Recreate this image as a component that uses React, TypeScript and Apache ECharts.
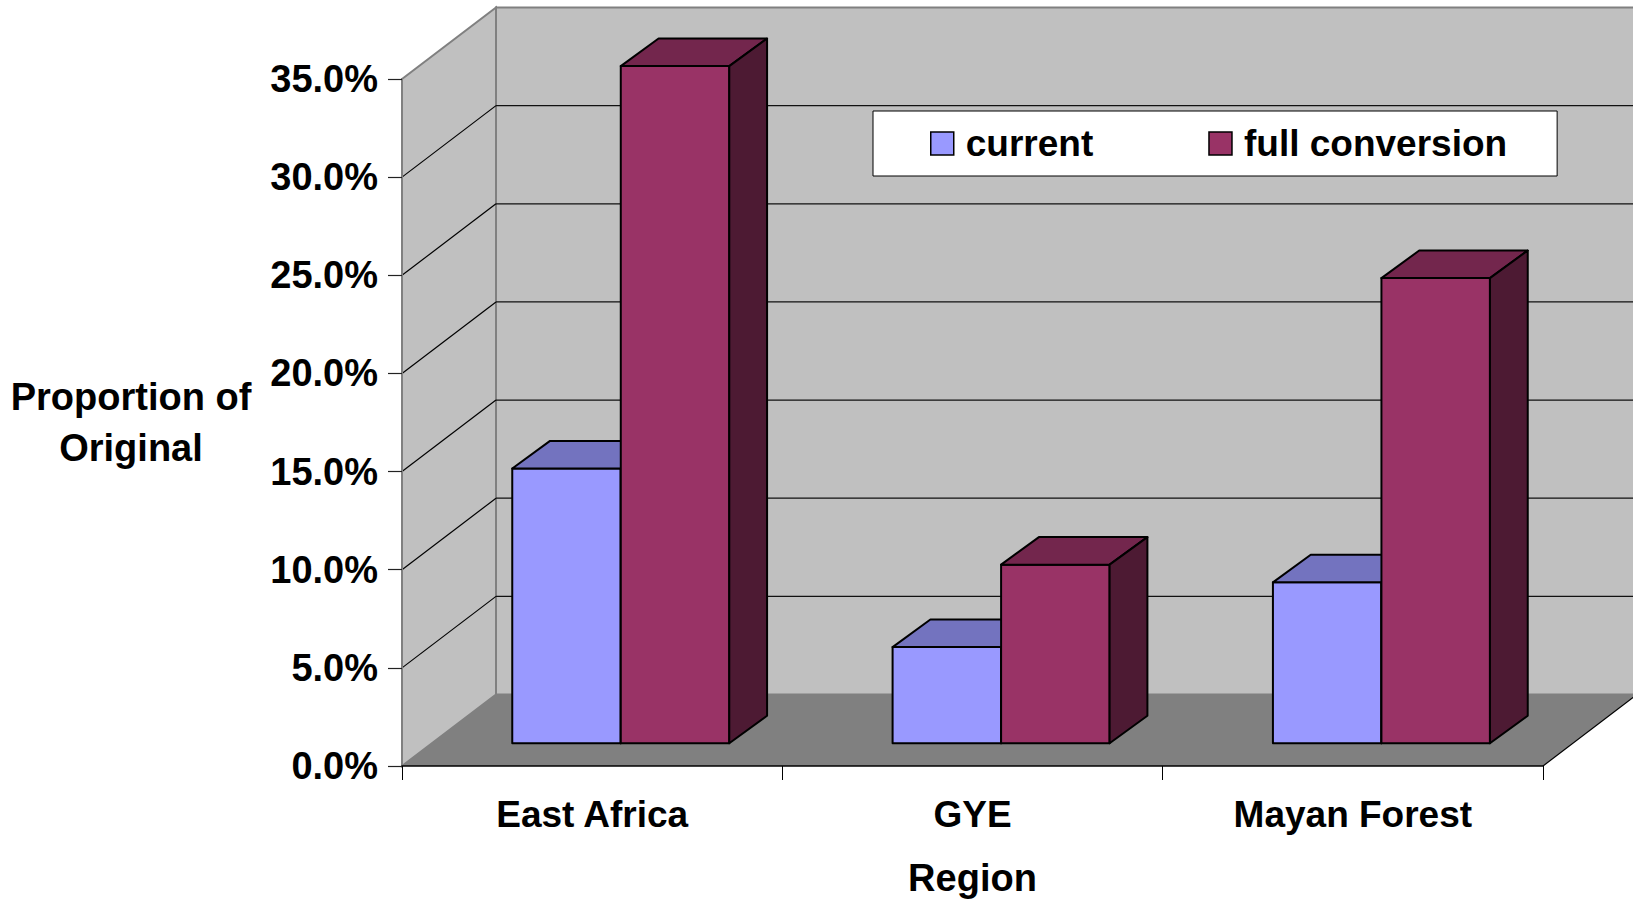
import React, { useEffect, useRef } from "react";
import * as echarts from "echarts";

const categories = ["East Africa", "GYE", "Mayan Forest"];
const currentValues = [0.14, 0.049, 0.082];
const fullValues = [0.345, 0.091, 0.237];
const yTicks = [0, 0.05, 0.1, 0.15, 0.2, 0.25, 0.3, 0.35];
const seriesNames = ["current", "full conversion"];

const FONT = "'Liberation Sans', Arial, Helvetica, sans-serif";
const WALL_DX = 94;
const WALL_DY = -71.5;
const BAR_FRAC = 0.2853;
const BAR_SHIFT_X = 28.6;
const BAR_SHIFT_Y = -22.7;
const BAR_DX = 37.8;
const BAR_DY = -27.6;

const FACE = [
  { front: "#9999FF", top: "#7373BF", side: "#4D4D80" },
  { front: "#993366", top: "#73264D", side: "#4D1A33" },
];

function barRender(slot: number) {
  return (params: any, api: any) => {
    const idx = api.value(0);
    const v = api.value(1);
    const base = api.coord([idx, 0]);
    const topP = api.coord([idx, v]);
    const band = api.size([1, 0])[0];
    const bw = band * BAR_FRAC;
    const x0 = base[0] - bw + slot * bw + BAR_SHIFT_X;
    const yB = base[1] + BAR_SHIFT_Y;
    const yT = topP[1] + BAR_SHIFT_Y;
    const c = FACE[slot];
    const stroke = { stroke: "#000", lineWidth: 2, lineJoin: "round" };
    return {
      type: "group",
      children: [
        {
          type: "rect",
          shape: { x: x0, y: yT, width: bw, height: yB - yT },
          style: { fill: c.front, ...stroke },
        },
        {
          type: "polygon",
          shape: {
            points: [
              [x0, yT],
              [x0 + bw, yT],
              [x0 + bw + BAR_DX, yT + BAR_DY],
              [x0 + BAR_DX, yT + BAR_DY],
            ],
          },
          style: { fill: c.top, ...stroke },
        },
        {
          type: "polygon",
          shape: {
            points: [
              [x0 + bw, yT],
              [x0 + bw + BAR_DX, yT + BAR_DY],
              [x0 + bw + BAR_DX, yB + BAR_DY],
              [x0 + bw, yB],
            ],
          },
          style: { fill: c.side, ...stroke },
        },
      ],
    };
  };
}

function wallRender(params: any, api: any) {
  const cs = params.coordSys;
  const L = cs.x;
  const R = cs.x + cs.width;
  const T = api.coord([0, yTicks[yTicks.length - 1]])[1];
  const B = api.coord([0, 0])[1];
  return {
    type: "group",
    children: [
      {
        type: "rect",
        shape: { x: L + WALL_DX, y: T + WALL_DY, width: R - L + 10, height: B - T },
        style: { fill: "#C0C0C0", stroke: "#808080", lineWidth: 2 },
      },
      {
        type: "polygon",
        shape: {
          points: [
            [L, T],
            [L + WALL_DX, T + WALL_DY],
            [L + WALL_DX, B + WALL_DY],
            [L, B],
          ],
        },
        style: { fill: "#C0C0C0", stroke: "#808080", lineWidth: 2 },
      },
      {
        type: "polygon",
        shape: {
          points: [
            [L, B],
            [R, B],
            [R + WALL_DX, B + WALL_DY],
            [L + WALL_DX, B + WALL_DY],
          ],
        },
        style: { fill: "#808080" },
      },
      {
        type: "line",
        shape: { x1: R, y1: B, x2: R + WALL_DX, y2: B + WALL_DY },
        style: { stroke: "#000", lineWidth: 1.2 },
      },
    ],
  };
}

function gridLineRender(params: any, api: any) {
  const cs = params.coordSys;
  const L = cs.x;
  const R = cs.x + cs.width;
  const y = api.coord([0, api.value(1)])[1];
  return {
    type: "group",
    children: [
      {
        type: "line",
        shape: { x1: L, y1: y, x2: L + WALL_DX, y2: y + WALL_DY },
        style: { stroke: "#000", lineWidth: 1.2 },
      },
      {
        type: "line",
        shape: { x1: L + WALL_DX, y1: y + WALL_DY, x2: R + WALL_DX + 10, y2: y + WALL_DY },
        style: { stroke: "#111", lineWidth: 1.3 },
      },
    ],
  };
}

export default function App() {
  const ref = useRef<HTMLDivElement>(null);
  useEffect(() => {
    document.body.style.margin = "0";
    const chart = echarts.init(ref.current!, null, { renderer: "svg" });
    const gridTicks = yTicks.filter((v) => v > 0 && v < yTicks[yTicks.length - 1]);
    chart.setOption({
      animation: false,
      backgroundColor: "#fff",
      textStyle: { fontFamily: FONT },
      grid: {
        left: 402,
        top: 79,
        right: 90,
        bottom: 133,
        containLabel: false,
        outerBoundsMode: "none",
      },
      legend: {
        data: seriesNames,
        left: 873,
        top: 111,
        orient: "horizontal",
        icon: "rect",
        itemWidth: 23,
        itemHeight: 23,
        itemGap: 115,
        padding: [14, 50, 14, 57],
        backgroundColor: "#fff",
        borderColor: "#000",
        borderWidth: 1,
        itemStyle: { borderColor: "#000", borderWidth: 1.5 },
        textStyle: {
          fontFamily: FONT,
          fontSize: 37,
          fontWeight: "bold",
          color: "#000",
          padding: [2, 0, 0, 7],
        },
      },
      xAxis: {
        type: "category",
        data: categories,
        z: 10,
        name: "Region",
        nameLocation: "middle",
        nameGap: 93,
        nameTextStyle: { fontFamily: FONT, fontSize: 38, fontWeight: "bold", color: "#000" },
        axisLine: { show: true, lineStyle: { color: "#000", width: 1.5 } },
        axisTick: { show: true, length: 14, lineStyle: { color: "#000", width: 1 } },
        axisLabel: {
          interval: 0,
          margin: 30,
          fontFamily: FONT,
          fontSize: 37,
          fontWeight: "bold",
          color: "#000",
        },
        splitLine: { show: false },
      },
      yAxis: {
        type: "value",
        min: 0,
        max: 0.35,
        interval: 0.05,
        z: 10,
        name: "Proportion of\nOriginal",
        nameLocation: "middle",
        nameRotate: 0,
        nameGap: 271,
        nameTextStyle: {
          fontFamily: FONT,
          fontSize: 38,
          fontWeight: "bold",
          color: "#000",
          align: "center",
          lineHeight: 51,
        },
        axisLine: { show: true, lineStyle: { color: "#808080", width: 2 } },
        axisTick: { show: true, length: 14, lineStyle: { color: "#222", width: 1.2 } },
        axisLabel: {
          margin: 24,
          fontFamily: FONT,
          fontSize: 38,
          fontWeight: "bold",
          color: "#000",
          formatter: (v: number) => (v * 100).toFixed(1) + "%",
        },
        splitLine: { show: false },
      },
      series: [
        {
          name: "walls",
          type: "custom",
          z: 1,
          silent: true,
          renderItem: wallRender,
          data: [[0, 0]],
        },
        {
          name: "gridlines",
          type: "custom",
          z: 1,
          silent: true,
          renderItem: gridLineRender,
          data: gridTicks.map((v) => [0, v]),
        },
        {
          name: seriesNames[0],
          type: "custom",
          z: 3,
          itemStyle: { color: FACE[0].front },
          renderItem: barRender(0),
          data: categories.map((_, i) => [i, currentValues[i]]),
        },
        {
          name: seriesNames[1],
          type: "custom",
          z: 4,
          itemStyle: { color: FACE[1].front },
          renderItem: barRender(1),
          data: categories.map((_, i) => [i, fullValues[i]]),
        },
      ],
    });
    return () => chart.dispose();
  }, []);
  return <div ref={ref} style={{ width: 1633, height: 899 }} />;
}
